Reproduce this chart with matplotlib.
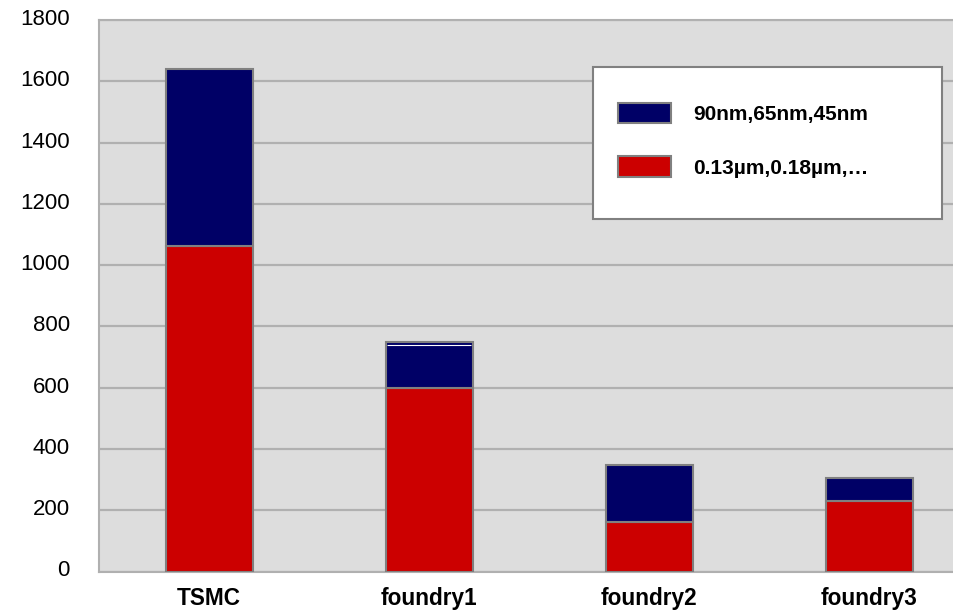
import matplotlib
matplotlib.use("Agg")
import matplotlib.pyplot as plt
import matplotlib.transforms as mtransforms
from matplotlib.patches import Rectangle

# data
foundries = ["TSMC", "foundry1", "foundry2", "foundry3"]
legacy = [1063, 600, 162, 230]          # 0.13um, 0.18um, ...
advanced = [577, 150, 186, 75]          # 90nm, 65nm, 45nm
yticks = [0, 200, 400, 600, 800, 1000, 1200, 1400, 1600, 1800]
foundry1_mark = 738                     # thin white line inside foundry1 bar

BLUE = "#000066"
RED = "#CC0000"
EDGE = "#808080"
GRID = "#B0B0B0"

plt.rcParams["font.family"] = ["Liberation Sans", "DejaVu Sans"]

W, H = 954, 610
fig = plt.figure(figsize=(W / 100, H / 100), dpi=100)
# plot area in pixels: left 99, right 954, top 20, bottom 571.5
ax = fig.add_axes([99 / W, 1 - 571.5 / H, (954 - 99) / W, (571.5 - 20) / H])
ax.set_facecolor("#DDDDDD")

x = list(range(len(foundries)))
bw = 0.395
ax.bar(x, legacy, width=bw, color=RED, edgecolor=EDGE, linewidth=1.5,
       zorder=3, label="0.13\u00b5m,0.18\u00b5m,\u2026")
ax.bar(x, advanced, bottom=legacy, width=bw, color=BLUE, edgecolor=EDGE,
       linewidth=1.5, zorder=3, label="90nm,65nm,45nm")
ax.hlines(foundry1_mark, x[1] - bw / 2 + 0.006, x[1] + bw / 2 - 0.006,
          color="white", linewidth=0.8, zorder=4)

ax.set_ylim(0, 1800)
ax.set_xlim(-0.5, 3.384)
ax.set_yticks(yticks)
ax.set_xticks(x)
ax.set_xticklabels(foundries, fontweight="bold")
ax.yaxis.grid(True, color=GRID, linewidth=1.6, zorder=1)
ax.set_axisbelow(True)
ax.tick_params(axis="y", length=0, pad=21, labelsize=16)
ax.tick_params(axis="x", length=0, pad=11, labelsize=16.3)
for s in ["left", "top", "bottom"]:
    ax.spines[s].set_color(GRID)
    ax.spines[s].set_linewidth(1.5)
ax.spines["right"].set_visible(False)

# y labels sit a few pixels above their gridlines in the original
shift = mtransforms.ScaledTranslation(0, 3 / 100, fig.dpi_scale_trans)
for lab in ax.get_yticklabels():
    lab.set_transform(lab.get_transform() + shift)

# legend box
ax.add_patch(Rectangle((0.578, 0.639), 0.408, 0.276, transform=ax.transAxes,
                       facecolor="white", edgecolor=EDGE, linewidth=1.5,
                       zorder=5))
handles, labels = ax.get_legend_handles_labels()
leg = ax.legend(handles[::-1], labels[::-1], loc="upper left",
                bbox_to_anchor=(0.595, 0.869), frameon=False, borderpad=0,
                handlelength=2.53, handleheight=1.15, handletextpad=1.06,
                labelspacing=1.55, prop={"weight": "bold", "size": 15})
leg.set_zorder(6)

fig.savefig("out.png", dpi=100)
